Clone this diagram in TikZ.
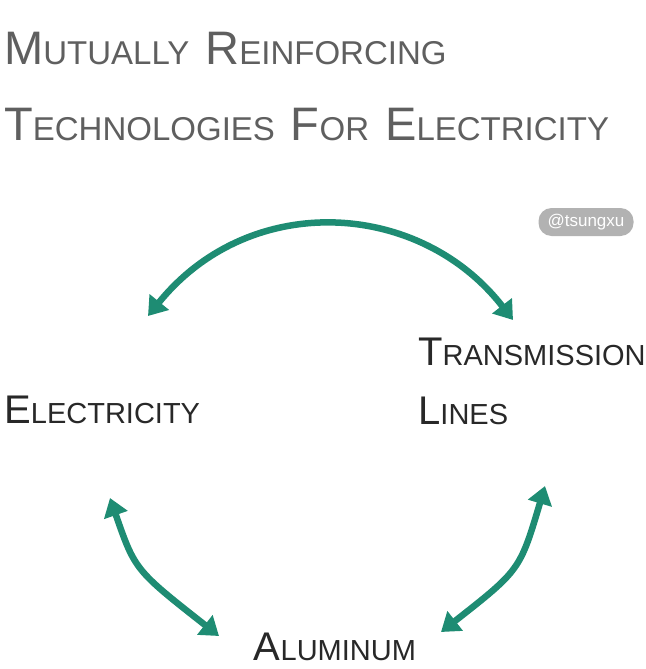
\documentclass[tikz,border=0pt]{standalone}
\usepackage{fontspec}
\setmainfont{Liberation Sans}
\usetikzlibrary{arrows.meta, positioning}
\definecolor{teal1}{RGB}{30,140,115}
\definecolor{ink}{RGB}{40,40,40}
\definecolor{titlegray}{RGB}{95,95,95}
\newcommand{\cs}[2]{{\fontsize{47}{47}\selectfont #1}{\fontsize{33}{33}\selectfont #2}}
\newcommand{\ls}[2]{{\fontsize{40}{40}\selectfont #1}{\fontsize{29}{29}\selectfont #2}}
\newcommand{\gap}{\hspace{16pt}}
\begin{document}
\begin{tikzpicture}[x=1pt, y=-1pt,
    title/.style = {anchor=base west, inner sep=0, text=titlegray},
    label/.style = {inner sep=0, text=ink, align=left},
    link/.style = {teal1, line width=6.5pt, {Triangle[length=18pt,width=24pt]}-{Triangle[length=18pt,width=24pt]}}]
  \useasboundingbox (0,0) rectangle (645,669);
  % title
  \node[title] (t1) at (4,65) {\cs{M}{UTUALLY}\gap\cs{R}{EINFORCING}};
  \node[title] (t2) at (4,140) {\cs{T}{ECHNOLOGIES}\gap\cs{F}{OR}\gap\cs{E}{LECTRICITY}};
  % badge
  \node[fill=black!30, text=white, rounded corners=13pt, minimum width=95pt,
        minimum height=28pt, font=\fontsize{17}{17}\selectfont] (tag) at (586,222) {@tsungxu};
  % the three technologies
  \node[label, anchor=west] (elec) at (4,410) {\ls{E}{LECTRICITY}};
  \node[label, anchor=north west, align=left] (trans) at (418,338)
    {\ls{T}{RANSMISSION}\\[30pt]\ls{L}{INES}};
  \node[label, anchor=base] (alu) at (335,660) {\ls{A}{LUMINUM}};
  % links
  \coordinate (a1) at (148,316);
  \coordinate (a2) at (513,320);
  \coordinate (b1) at (110,498);
  \coordinate (b2) at (219,636);
  \coordinate (c1) at (545,486);
  \coordinate (c2) at (441,632);
  \draw[link] (a1) .. controls (250,190) and (420,200) .. (a2);
  \draw[link] (b1) .. controls (135,570) .. (b2);
  \draw[link] (c1) .. controls (520,570) .. (c2);
\end{tikzpicture}
\end{document}
